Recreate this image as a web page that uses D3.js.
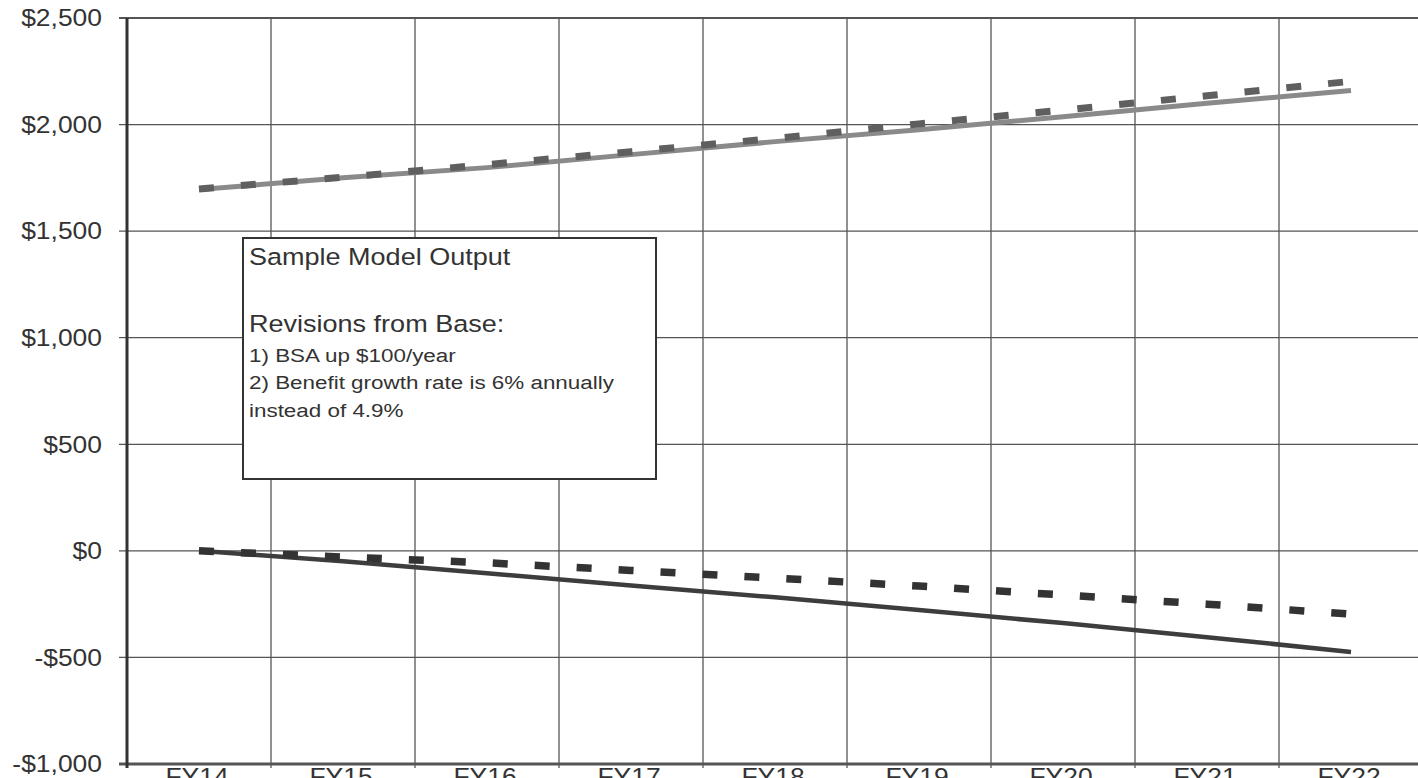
<!DOCTYPE html>
<html>
<head>
<meta charset="utf-8">
<script src="https://cdn.jsdelivr.net/npm/d3@7"></script>
<style>
  html, body { margin: 0; padding: 0; background: #fff; overflow: hidden; }
  svg { display: block; }
  text { font-family: "Liberation Sans", Arial, sans-serif; fill: #333; }
</style>
</head>
<body>
<svg id="chart" width="1418" height="778"></svg>
<script>
// ---- data ----
const categories = ["FY14", "FY15", "FY16", "FY17", "FY18", "FY19", "FY20", "FY21", "FY22"];
const upperSolid  = [1695, 1750, 1798, 1859, 1920, 1976, 2037, 2100, 2160];
const upperDashed = [1698, 1753, 1812, 1873, 1935, 2003, 2068, 2135, 2203];
const lowerSolid  = [0, -49, -105, -162, -218, -278, -339, -405, -474];
const lowerDashed = [0, -29, -56, -92, -128, -165, -207, -250, -297];
const yTicks = [2500, 2000, 1500, 1000, 500, 0, -500, -1000];
const noteTitle = ["Sample Model Output", "", "Revisions from Base:"];
const noteLines = ["1) BSA up $100/year", "2) Benefit growth rate is 6% annually", "instead of 4.9%"];

(function () {
// ---- layout ----
const svg = d3.select("#chart");
const pLeft = 127, pTop = 18, pBottom = 764, bandW = 144;
const pRight = pLeft + bandW * categories.length;
const SX = 1.15; // horizontal stretch of text in the reference

const x = d3.scaleBand().domain(categories).range([pLeft, pRight]).paddingInner(0).paddingOuter(0);
const y = d3.scaleLinear().domain([-1000, 2500]).range([pBottom, pTop]);
const fmt = v => (v < 0 ? "-$" : "$") + d3.format(",")(Math.abs(v));

// grid: horizontal
svg.append("g").selectAll("line").data(yTicks).join("line")
  .attr("x1", pLeft - 8).attr("x2", 1418)
  .attr("y1", d => y(d)).attr("y2", d => y(d))
  .attr("stroke", "#555").attr("stroke-width", d => d === -1000 ? 3 : (d === 2500 ? 2 : 1.3));

// grid: vertical (category boundaries)
const bounds = categories.map(c => x(c)).concat([pRight]);
svg.append("g").selectAll("line").data(bounds.slice(1)).join("line")
  .attr("x1", d => d).attr("x2", d => d)
  .attr("y1", pTop).attr("y2", pBottom + 4)
  .attr("stroke", "#555").attr("stroke-width", 1.3);

// y axis line
svg.append("line").attr("x1", pLeft).attr("x2", pLeft).attr("y1", pTop).attr("y2", pBottom + 4)
  .attr("stroke", "#333").attr("stroke-width", 3);

// y labels
svg.append("g").selectAll("text").data(yTicks).join("text")
  .attr("transform", d => `translate(102,${y(d)}) scale(${SX},1)`)
  .attr("text-anchor", "end").attr("dy", "0.36em")
  .style("font-size", "23px")
  .text(fmt);

// x labels (cut off at the bottom edge, as in the reference)
svg.append("g").selectAll("text").data(categories).join("text")
  .attr("transform", d => `translate(${x(d) + x.bandwidth() / 2 - 2},785) scale(${SX},1)`)
  .attr("text-anchor", "middle")
  .style("font-size", "23px")
  .text(d => d);

// lines
const line = d3.line().x((d, i) => x(categories[i]) + x.bandwidth() / 2).y(d => y(d));
function drawLine(data, color, width, dash) {
  svg.append("path").datum(data)
    .attr("d", line).attr("fill", "none")
    .attr("stroke", color).attr("stroke-width", width)
    .attr("stroke-dasharray", dash || null)
    .attr("stroke-linejoin", "round");
}
drawLine(upperSolid, "#8a8a8a", 5);
drawLine(upperDashed, "#5f5f5f", 7, "15,27");
drawLine(lowerSolid, "#3d3d3d", 4.5);
drawLine(lowerDashed, "#333", 7.5, "15,27");

// annotation box
const box = svg.append("g");
box.append("rect").attr("x", 243).attr("y", 238).attr("width", 413).attr("height", 241)
  .attr("fill", "#fff").attr("stroke", "#333").attr("stroke-width", 2);
box.selectAll("text.t").data(noteTitle).join("text").attr("class", "t")
  .attr("transform", (d, i) => `translate(249,${265 + i * 33.5}) scale(${SX},1)`)
  .style("font-size", "23.5px")
  .text(d => d);
box.selectAll("text.l").data(noteLines).join("text").attr("class", "l")
  .attr("transform", (d, i) => `translate(249,${361.5 + i * 27.5}) scale(1.18,1)`)
  .style("font-size", "19px")
  .text(d => d);
})();
</script>
</body>
</html>
